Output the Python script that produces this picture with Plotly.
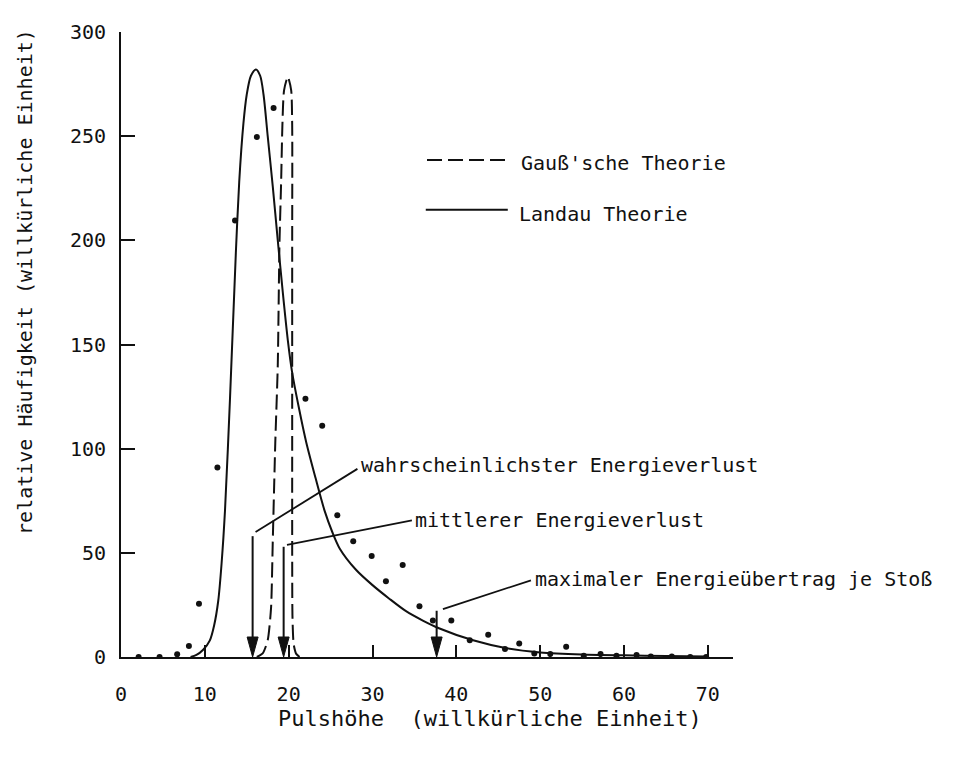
import plotly.graph_objects as go

# ---------------- data ----------------
# measured points (dots)
meas_x = [2.1, 4.6, 6.7, 8.1, 9.3, 11.5, 13.6, 16.2, 18.2, 22.0, 24.0, 25.8, 27.7,
          29.9, 31.6, 33.6, 35.6, 37.2, 39.4, 41.6, 43.8, 45.8, 47.5, 49.3, 51.2,
          53.1, 55.2, 57.2, 59.1, 61.5, 63.2, 65.7, 67.9, 69.8]
meas_y = [0, 0, 1.3, 5.3, 25.6, 91, 209.5, 249.6, 263.5, 124, 111, 68, 55.6,
          48.5, 36.4, 44.2, 24.4, 17.5, 17.5, 8, 10.7, 3.8, 6.5, 1.7, 1.4,
          4.9, 0.6, 1.4, 0.6, 1.0, 0.2, 0.2, 0, 0]

# Landau theory (solid)
landau_x = [8.3, 9.0, 9.8, 10.6, 11.1, 11.6, 12.0, 12.4, 13.0, 13.7, 14.1, 14.6, 15.0,
            15.5, 16.1, 16.6, 17.0, 17.5, 18.1, 18.7, 19.3, 19.9, 20.4, 21.2, 22.1,
            23.2, 24.3, 25.2, 26.1, 28.0, 30.0, 32.0, 34.0, 36.0, 38.0, 42.0, 46.0,
            50.0, 55.0, 60.0, 65.0, 70.0]
landau_y = [0, 1, 3.5, 8, 15, 27, 45, 70, 124, 194, 228, 256, 270,
            279, 282, 279, 270, 250, 226, 200, 175, 152, 137, 120, 103,
            86, 70, 60, 52, 42, 34.5, 28, 22, 17.5, 13.7, 8, 4.2,
            2.2, 1.2, 0.8, 0.5, 0.3]

# Gaussian theory (dashed)
gauss_x = [16.2, 16.9, 17.5, 17.9, 18.1, 18.4, 18.7, 18.9, 19.1, 19.25, 19.45, 19.9,
           20.3, 20.42, 20.42, 20.42, 20.42, 20.42, 20.45, 20.6, 20.9, 21.3]
gauss_y = [0, 1.7, 8, 23.7, 55, 102.5, 140, 198, 228, 255, 272, 278.5,
           272, 255, 200, 140, 100, 55, 20, 6, 1.5, 0]

# characteristic energies marked by arrows
arrow_x = [15.7, 19.4, 37.65]
arrow_labels = ["wahrscheinlichster Energieverlust",
                "mittlerer Energieverlust",
                "maximaler Energieübertrag je Stoß"]

x_ticks = [0, 10, 20, 30, 40, 50, 60, 70]
y_ticks = [0, 50, 100, 150, 200, 250, 300]

# ---------------- style ----------------
FONT = "DejaVu Sans Mono"
INK = "#111111"
FS = 20

fig = go.Figure()
fig.add_trace(go.Scatter(x=gauss_x, y=gauss_y, mode="lines",
                         line=dict(color=INK, width=2, dash="15px,6px", shape="spline", smoothing=0.6),
                         showlegend=False, hoverinfo="skip"))
fig.add_trace(go.Scatter(x=landau_x, y=landau_y, mode="lines",
                         line=dict(color=INK, width=2, shape="spline", smoothing=0.8),
                         showlegend=False, hoverinfo="skip"))
fig.add_trace(go.Scatter(x=meas_x, y=meas_y, mode="markers",
                         marker=dict(color=INK, size=6),
                         showlegend=False, hoverinfo="skip"))

# arrow geometry (layout): vertical tail top, kink start, text anchor
arrow_top = [58, 52.9, 22.2]
kink_start = [(16.05, 60), (19.8, 53.8), (38.4, 23.0)]
kink_end = [(28.2, 90.3), (34.7, 65.6), (48.9, 36.8)]
text_pos = [(28.4, 92.0), (34.8, 66.0), (49.2, 37.5)]

shapes = []
annotations = []
for ax_, top, ks, ke, tp, lab in zip(arrow_x, arrow_top, kink_start, kink_end, text_pos, arrow_labels):
    shapes.append(dict(type="line", xref="x", yref="y", x0=ax_, x1=ax_, y0=8, y1=top,
                       line=dict(color=INK, width=2)))
    shapes.append(dict(type="path", xref="x", yref="y", xsizemode="pixel", ysizemode="pixel",
                       xanchor=ax_, yanchor=0, path="M0,0 L-5.5,20 L5.5,20 Z",
                       fillcolor=INK, line=dict(color=INK, width=1)))
    shapes.append(dict(type="line", xref="x", yref="y", x0=ks[0], y0=ks[1], x1=ke[0], y1=ke[1],
                       line=dict(color=INK, width=1.8)))
    annotations.append(dict(x=tp[0], y=tp[1], xref="x", yref="y", text=lab, showarrow=False,
                            xanchor="left", yanchor="middle",
                            font=dict(family=FONT, size=FS, color=INK)))

# legend (drawn in paper coordinates)
shapes.append(dict(type="line", xref="paper", yref="paper", x0=0.500, x1=0.631, y0=0.7953, y1=0.7953,
                   line=dict(color=INK, width=2, dash="15px,6px")))
shapes.append(dict(type="line", xref="paper", yref="paper", x0=0.498, x1=0.632, y0=0.7157, y1=0.7157,
                   line=dict(color=INK, width=2)))
annotations.append(dict(x=0.650, y=0.7906, xref="paper", yref="paper", text="Gauß'sche Theorie",
                        showarrow=False, xanchor="left", yanchor="middle",
                        font=dict(family=FONT, size=FS, color=INK)))
annotations.append(dict(x=0.647, y=0.7087, xref="paper", yref="paper", text="Landau Theorie",
                        showarrow=False, xanchor="left", yanchor="middle",
                        font=dict(family=FONT, size=FS, color=INK)))

# axis titles
annotations.append(dict(x=-0.157, y=0.60, xref="paper", yref="paper",
                        text="relative Häufigkeit (willkürliche Einheit)", textangle=-90,
                        showarrow=False, xanchor="center", yanchor="middle",
                        font=dict(family=FONT, size=FS, color=INK)))
annotations.append(dict(x=0.603, y=-0.099, xref="paper", yref="paper",
                        text="Pulshöhe\u00a0\u00a0(willkürliche Einheit)",
                        showarrow=False, xanchor="center", yanchor="middle",
                        font=dict(family=FONT, size=22, color=INK)))

# page body has an 8px margin, so the plot area is shifted back by 8px
fig.update_layout(
    width=957, height=763,
    margin=dict(l=113, r=232, t=14, b=114),
    paper_bgcolor="white", plot_bgcolor="white",
    showlegend=False,
    shapes=shapes, annotations=annotations,
    xaxis=dict(range=[0, 73], tickvals=x_ticks, ticktext=[str(v) for v in x_ticks],
               showgrid=False, zeroline=False, showline=True, linecolor=INK, linewidth=2,
               ticks="inside", ticklen=12, tickwidth=2, tickcolor=INK,
               ticklabelstandoff=18,
               tickfont=dict(family=FONT, size=FS, color=INK)),
    yaxis=dict(range=[0, 300], tickvals=y_ticks, ticktext=[str(v) for v in y_ticks],
               showgrid=False, zeroline=False, showline=True, linecolor=INK, linewidth=2,
               ticks="inside", ticklen=14, tickwidth=2, tickcolor=INK,
               ticklabelstandoff=9,
               tickfont=dict(family=FONT, size=FS, color=INK)),
)

fig.write_html("out.html")
